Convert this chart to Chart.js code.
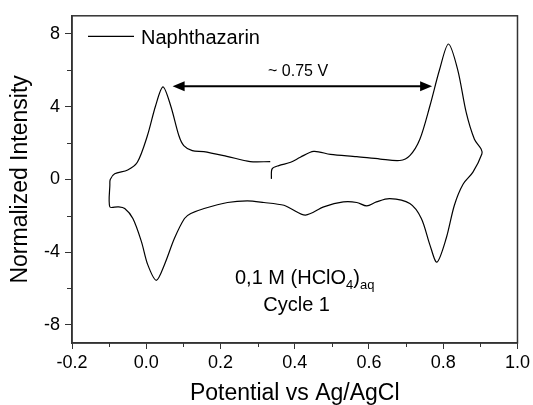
<!DOCTYPE html>
<html>
<head>
<meta charset="utf-8">
<title>Naphthazarin CV</title>
<script src="https://cdn.jsdelivr.net/npm/chart.js@4.4.1/dist/chart.umd.min.js"></script>
<style>
  html, body { margin: 0; padding: 0; background: #fff; }
  #wrap { width: 533px; height: 405px; }
</style>
</head>
<body>
<div id="wrap"><canvas id="cv" width="533" height="405"></canvas></div>
<script>
// -------- Data --------------------------------
// one cycle, in scan order: starts at ~0.34 V, anodic to 0.9 V, back to -0.1 V, up again to ~0.33 V
const potential = [
  0.337, 0.339, 0.357, 0.389, 0.415, 0.451, 0.496, 0.567, 0.630, 0.683,
  0.710, 0.737, 0.764, 0.790, 0.814, 0.839, 0.862, 0.884, 0.902, 0.904,
  0.880, 0.853, 0.830, 0.808, 0.783, 0.764, 0.741, 0.710, 0.656, 0.620,
  0.594, 0.567, 0.531, 0.478, 0.429, 0.389, 0.371, 0.317, 0.272, 0.219,
  0.156, 0.120, 0.103, 0.076, 0.049, 0.027, 0.004, -0.013, -0.036, -0.058,
  -0.076, -0.098, -0.098, -0.097, -0.085, -0.050, -0.024, 0.003, 0.025, 0.045,
  0.066, 0.088, 0.101, 0.124, 0.155, 0.217, 0.280, 0.334
];
const intensity = [
  0.03, 0.58, 0.76, 0.94, 1.22, 1.54, 1.38, 1.25, 1.12, 1.04,
  1.31, 2.21, 4.04, 6.03, 7.45, 6.03, 3.67, 2.21, 1.67, 1.40,
  0.40, -0.28, -1.42, -3.24, -4.55, -3.60, -2.15, -1.33, -1.06, -1.24,
  -1.46, -1.27, -1.24, -1.51, -1.96, -1.60, -1.42, -1.27, -1.18, -1.27,
  -1.60, -1.88, -2.15, -3.24, -4.69, -5.55, -4.69, -3.42, -2.15, -1.60,
  -1.51, -1.51, -0.30, 0.00, 0.31, 0.52, 0.94, 2.40, 4.04, 5.09,
  4.04, 2.40, 1.86, 1.58, 1.53, 1.27, 0.98, 0.98
];
const seriesName = "Naphthazarin";

const xMajor = [-0.2, 0.0, 0.2, 0.4, 0.6, 0.8, 1.0];
const xMinor = [-0.1, 0.1, 0.3, 0.5, 0.7, 0.9];
const yMajor = [-8, -4, 0, 4, 8];
const yMinor = [-6, -2, 2, 6];

const xTitle = "Potential vs Ag/AgCl";
const yTitle = "Normalized Intensity";
const gapLabel = "~ 0.75 V";
const gapFrom = 0.071, gapTo = 0.770, gapLevel = 5.13;

const FONT = "'Liberation Sans', Arial, Helvetica, sans-serif";
const INK = "#000";
const AXIS = "#333";

// -------- Helpers ----------
function setFont(ctx, size) { ctx.font = `${size}px ${FONT}`; }

function arrowHead(ctx, x, y, dir) {
  ctx.beginPath();
  ctx.moveTo(x, y);
  ctx.lineTo(x - dir * 12, y - 5);
  ctx.lineTo(x - dir * 12, y + 5);
  ctx.closePath();
  ctx.fill();
}

// frame, minor ticks, legend and annotations
const extras = {
  id: "extras",
  afterDraw(chart) {
    const { ctx, chartArea: a, scales: { x, y } } = chart;
    ctx.save();

    // box
    ctx.strokeStyle = AXIS;
    ctx.lineWidth = 1.5;
    ctx.strokeRect(a.left, a.top, a.right - a.left, a.bottom - a.top);

    // minor ticks (shorter)
    ctx.beginPath();
    xMinor.forEach(v => {
      const px = Math.round(x.getPixelForValue(v)) + 0.5;
      ctx.moveTo(px, a.bottom); ctx.lineTo(px, a.bottom + 4);
    });
    yMinor.forEach(v => {
      const py = Math.round(y.getPixelForValue(v)) + 0.5;
      ctx.moveTo(a.left, py); ctx.lineTo(a.left - 5, py);
    });
    ctx.lineWidth = 1;
    ctx.stroke();

    // legend
    ctx.strokeStyle = INK;
    ctx.lineWidth = 1.3;
    ctx.beginPath();
    ctx.moveTo(a.left + 16, a.top + 20.5);
    ctx.lineTo(a.left + 62, a.top + 20.5);
    ctx.stroke();
    ctx.fillStyle = INK;
    setFont(ctx, 20);
    ctx.textBaseline = "alphabetic";
    ctx.textAlign = "left";
    ctx.fillText(seriesName, a.left + 69, a.top + 28);

    // peak separation arrow
    const x1 = x.getPixelForValue(gapFrom);
    const x2 = x.getPixelForValue(gapTo);
    const ya = y.getPixelForValue(gapLevel);
    ctx.lineWidth = 2;
    ctx.beginPath();
    ctx.moveTo(x1 + 10, ya); ctx.lineTo(x2 - 10, ya);
    ctx.stroke();
    arrowHead(ctx, x1, ya, -1);
    arrowHead(ctx, x2, ya, 1);
    setFont(ctx, 16);
    ctx.fillText(gapLabel, x.getPixelForValue(0.328), y.getPixelForValue(5.71));

    // electrolyte / cycle
    let cx = x.getPixelForValue(0.239);
    const by = y.getPixelForValue(-5.73);
    const parts = [["0,1 M (HClO", 20, 0], ["4", 13, 5], [")", 20, 0], ["aq", 13, 5]];
    parts.forEach(([s, size, dy]) => {
      setFont(ctx, size);
      ctx.fillText(s, cx, by + dy);
      cx += ctx.measureText(s).width;
    });
    setFont(ctx, 20);
    ctx.textAlign = "center";
    ctx.fillText("Cycle 1", x.getPixelForValue(0.405), y.getPixelForValue(-7.24));

    ctx.restore();
  }
};

// -------- Chart ----------
const points = potential.map((v, i) => ({ x: v, y: intensity[i] }));

new Chart(document.getElementById("cv"), {
  type: "scatter",
  data: {
    datasets: [{
      label: seriesName,
      data: points,
      showLine: true,
      borderColor: INK,
      borderWidth: 1.2,
      pointRadius: 0,
      tension: 0.3,
      fill: false
    }]
  },
  options: {
    responsive: false,
    animation: false,
    devicePixelRatio: 1,
    layout: { padding: { left: 0, top: 13, right: 13, bottom: 0 } },
    plugins: { legend: { display: false }, tooltip: { enabled: false } },
    scales: {
      x: {
        type: "linear",
        min: -0.2, max: 1.0,
        afterFit: s => { s.height = 62; },
        afterBuildTicks: s => { s.ticks = xMajor.map(v => ({ value: v })); },
        grid: { drawOnChartArea: false, tickLength: 6, tickColor: AXIS, tickWidth: 1 },
        border: { color: AXIS, width: 1.5 },
        ticks: {
          color: INK, padding: 3, maxRotation: 0,
          font: { family: FONT, size: 18 },
          callback: v => v.toFixed(1)
        },
        title: {
          display: true, text: xTitle, color: INK,
          font: { family: FONT, size: 23, lineHeight: 1.1 },
          padding: { top: 0, bottom: -1 }
        }
      },
      y: {
        type: "linear",
        min: -9, max: 9,
        afterFit: s => { s.width = 72; },
        afterBuildTicks: s => { s.ticks = yMajor.map(v => ({ value: v })); },
        grid: { drawOnChartArea: false, tickLength: 7, tickColor: AXIS, tickWidth: 1 },
        border: { color: AXIS, width: 1.5 },
        ticks: {
          color: INK, padding: 5,
          font: { family: FONT, size: 18 },
          callback: v => String(v)
        },
        title: {
          display: true, text: yTitle, color: INK,
          font: { family: FONT, size: 23, lineHeight: 1.1 },
          padding: { top: 8, bottom: 0 }
        }
      }
    }
  },
  plugins: [extras]
});
</script>
</body>
</html>
